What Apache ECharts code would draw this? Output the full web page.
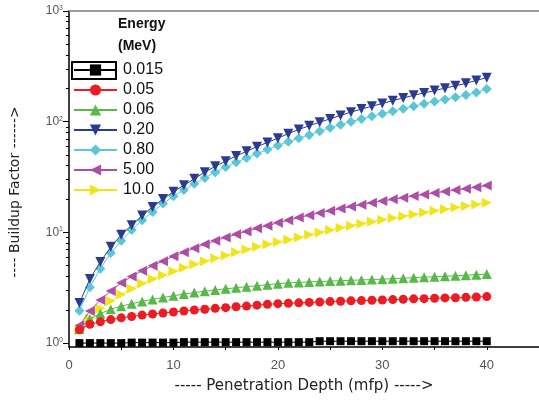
<!DOCTYPE html>
<html><head><meta charset="utf-8">
<script src="https://cdn.jsdelivr.net/npm/echarts@6/dist/echarts.min.js"></script>
<style>html,body{margin:0;padding:0;background:#fff}#c{width:539px;height:402px}</style>
</head><body><div id="c"></div>
<script>
const depth = [1,2,3,4,5,6,7,8,9,10,11,12,13,14,15,16,17,18,19,20,21,22,23,24,25,26,27,28,29,30,31,32,33,34,35,36,37,38,39,40];
const energies = ['0.015','0.05','0.06','0.20','0.80','5.00','10.0'];
const e0015 = [1.0,1.0,1.0,1.0,1.0,1.01,1.01,1.01,1.01,1.01,1.02,1.02,1.02,1.02,1.02,1.02,1.02,1.02,1.02,1.02,1.02,1.02,1.02,1.04,1.04,1.04,1.04,1.04,1.04,1.04,1.04,1.04,1.04,1.04,1.04,1.04,1.04,1.04,1.04,1.04];
const e005 = [1.32,1.48,1.56,1.63,1.69,1.74,1.79,1.83,1.87,1.91,1.95,1.99,2.02,2.06,2.09,2.13,2.16,2.2,2.24,2.27,2.29,2.31,2.33,2.35,2.37,2.39,2.41,2.42,2.44,2.45,2.47,2.49,2.51,2.52,2.54,2.56,2.57,2.59,2.61,2.63];
const e006 = [1.34,1.65,1.85,2.02,2.15,2.27,2.38,2.48,2.58,2.68,2.77,2.86,2.94,3.02,3.09,3.16,3.23,3.3,3.37,3.44,3.5,3.53,3.57,3.6,3.63,3.66,3.69,3.72,3.75,3.78,3.82,3.86,3.9,3.94,3.98,4.02,4.06,4.1,4.15,4.2];
const e020 = [2.3,3.8,5.4,7.4,9.5,11.6,14.2,17.0,20.0,23.3,26.7,30.5,35,39.5,44,49,54,59.5,65,71,78,85,92,99,106,114,122,130,138,146,155,164,173,182,191,201,211,222,236,250];
const e080 = [1.96,3.2,4.7,6.5,8.4,10.5,12.9,15.3,18.2,21.2,24.2,27.5,31,35,39,43,47,51.5,56,61,66,71,76,82,88,94,100,106,112,118,124,131,138,145,152,159,166,174,184,197];
const e500 = [1.45,1.95,2.45,2.95,3.5,4.0,4.5,5.0,5.5,6.1,6.6,7.2,7.8,8.4,9.0,9.6,10.2,10.9,11.5,12.2,12.9,13.6,14.3,15.0,15.7,16.4,17.1,17.8,18.5,19.2,19.9,20.6,21.3,22.0,22.7,23.4,24.1,24.8,25.6,26.5];
const e100 = [1.3,1.67,2.05,2.4,2.75,3.1,3.45,3.8,4.1,4.45,4.8,5.15,5.5,5.85,6.2,6.6,7.0,7.4,7.8,8.2,8.6,9.0,9.5,10.0,10.5,11.0,11.5,12.0,12.5,13.0,13.5,14.0,14.5,15.1,15.7,16.2,16.8,17.3,17.9,18.5];
const yMinorTicks = [2,3,4,5,6,7,8,9,20,30,40,50,60,70,80,90,200,300,400,500,600,700,800,900];

const values = [e0015,e005,e006,e020,e080,e500,e100];
const colors = ['#000000','#ec1c24','#57b947','#2b3a92','#5ac6d6','#ae4ca6','#f0e51c'];
const symbols = ['rect','circle','triangle','triangle','diamond','triangle','triangle'];
const rotates = [0,0,0,180,0,90,-90];
const sizes = [8,9,10,10,10,10,10];
const FONT = 'Liberation Sans, Arial, sans-serif';

const chart = echarts.init(document.getElementById('c'));
const series = energies.map((name,i)=>({
  name, type:'line',
  data: depth.map((d,j)=>[d, values[i][j]]),
  symbol: symbols[i], symbolRotate: rotates[i], symbolSize: sizes[i],
  lineStyle:{color:colors[i], width:1},
  itemStyle:{color:colors[i]},
  showSymbol:true, animation:false, z: 10-i
}));
chart.setOption({
  animation:false,
  textStyle:{fontFamily:FONT},
  title:{text:'Energy\n(MeV)', left:118, top:13, padding:0,
    textStyle:{fontSize:14, fontWeight:'bold', color:'#111', lineHeight:22, fontFamily:FONT}},
  legend:{orient:'vertical', left:73, top:62, padding:0, itemWidth:43, itemHeight:14, itemGap:4,
    textStyle:{fontSize:16, color:'#111', lineHeight:16, padding:[0,0,0,1]},
    data: energies},
  grid:{left:68, right:0, top:11, bottom:55},
  xAxis:[{type:'value', min:0, max:45, interval:10,
    name:'----- Penetration Depth (mfp) ----->', nameLocation:'middle', nameGap:32,
    nameTextStyle:{fontSize:15, color:'#222', fontFamily:'DejaVu Sans, sans-serif'},
    axisLine:{lineStyle:{color:'#000', width:1.5}},
    axisTick:{length:3, lineStyle:{color:'#000'}},
    minorTick:{show:true, splitNumber:2, length:3, lineStyle:{color:'#000'}},
    axisLabel:{color:'#555', fontSize:13, margin:12, showMaxLabel:false},
    splitLine:{show:false}},
   {type:'value', position:'top', min:0, max:45,
    axisLine:{show:true, lineStyle:{color:'#999', width:2}},
    axisTick:{show:false}, axisLabel:{show:false}, splitLine:{show:false}}],
  yAxis:[{type:'log', logBase:10, min:0.922, max:1000,
    name:'---- Buildup Factor ------>', nameLocation:'middle', nameGap:47,
    nameTextStyle:{fontSize:14, color:'#222', padding:[0,26,0,0], fontFamily:'DejaVu Sans, sans-serif'},
    axisLine:{show:true, lineStyle:{color:'#000', width:1.5}},
    axisTick:{length:6, lineStyle:{color:'#000'}},
    axisLabel:{showMinLabel:false, color:'#555', margin:6,
      formatter:(v)=>'10{s|'+Math.round(Math.log10(v))+'}',
      rich:{s:{fontSize:7, verticalAlign:'top', padding:[0,0,6,0], color:'#555'}},
      fontSize:12},
    splitLine:{show:false}},
   {type:'log', logBase:10, min:0.922, max:1000, position:'left',
    axisLine:{show:false},
    axisTick:{show:true, length:3, customValues:yMinorTicks, lineStyle:{color:'#000'}},
    axisLabel:{show:false}, splitLine:{show:false}}],
  graphic:[{type:'rect', shape:{x:72, y:62, width:44, height:17},
    style:{fill:'none', stroke:'#000', lineWidth:2}, z:100}],
  series
});
</script></body></html>
